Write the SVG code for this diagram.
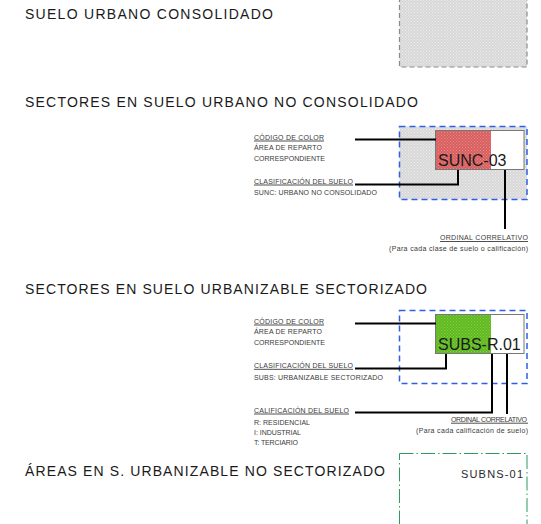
<svg xmlns="http://www.w3.org/2000/svg" width="541" height="524" viewBox="0 0 541 524">
<defs>
<pattern id="dots" width="3" height="3" patternUnits="userSpaceOnUse">
<rect width="3" height="3" fill="#d8d8d8"/>
<rect x="0" y="0" width="1" height="1" fill="#ececec"/>
<rect x="1.5" y="1.5" width="1" height="1" fill="#ececec"/>
</pattern>
<pattern id="reddots" width="3" height="3" patternUnits="userSpaceOnUse">
<rect width="3" height="3" fill="#d85f5f"/>
<rect x="0" y="0" width="1" height="1" fill="#e88a8a"/>
<rect x="1.5" y="1.5" width="1" height="1" fill="#e88a8a"/>
</pattern>
<pattern id="greendots" width="3" height="3" patternUnits="userSpaceOnUse">
<rect width="3" height="3" fill="#5fb81e"/>
<rect x="0" y="0" width="1" height="1" fill="#86cf4f"/>
<rect x="1.5" y="1.5" width="1" height="1" fill="#86cf4f"/>
</pattern>
</defs>
<style>
.title{font-family:"Liberation Sans",Arial,sans-serif;font-size:14px;fill:#1a1a1a}
.lab{font-family:"Liberation Sans",Arial,sans-serif;font-size:7px;fill:#3a3a3a}
.code{font-family:"Liberation Sans",Arial,sans-serif;font-size:16px;fill:#1a1a1a}
.code2{font-family:"Liberation Sans",Arial,sans-serif;font-size:11px;fill:#2a2a2a}
.lead{fill:none;stroke:#000;stroke-width:2}
.ul{stroke:#222;stroke-width:0.8}
.inner{fill:#fff;stroke:#777;stroke-width:1}
</style>
<rect width="541" height="524" fill="#fff"/>

<g id="titles">
<text class="title" x="25" y="19" textLength="248" lengthAdjust="spacing">SUELO URBANO CONSOLIDADO</text>
<text class="title" x="25" y="107" textLength="393" lengthAdjust="spacing">SECTORES EN SUELO URBANO NO CONSOLIDADO</text>
<text class="title" x="25" y="293.5" textLength="402" lengthAdjust="spacing">SECTORES EN SUELO URBANIZABLE SECTORIZADO</text>
<text class="title" x="25" y="476" textLength="360" lengthAdjust="spacing">ÁREAS EN S. URBANIZABLE NO SECTORIZADO</text>
</g>

<g id="suc-box">
<rect x="399.5" y="-5" width="127.5" height="72" fill="url(#dots)" stroke="#8a8a8a" stroke-width="1.2" stroke-dasharray="5,3"/>
</g>

<g id="sunc-box">
<rect x="399.5" y="126.5" width="127.5" height="73" fill="url(#dots)" stroke="#2f5fe8" stroke-width="1.5" stroke-dasharray="6,4"/>
<rect class="inner" x="435.5" y="130.5" width="88.5" height="39"/>
<rect x="436" y="131" width="55" height="38" fill="url(#reddots)"/>
<text class="code" x="438" y="166">SUNC-03</text>
</g>

<g id="sunc-labels">
<text class="lab" x="254" y="139.5" textLength="70" lengthAdjust="spacing">CÓDIGO DE COLOR</text>
<line class="ul" x1="254" y1="141" x2="324" y2="141"/>
<text class="lab" x="254" y="150.3" textLength="68" lengthAdjust="spacing">ÁREA  DE REPARTO</text>
<text class="lab" x="254" y="160.7" textLength="71" lengthAdjust="spacing">CORRESPONDIENTE</text>
<text class="lab" x="254" y="183.5" textLength="99" lengthAdjust="spacing">CLASIFICACIÓN DEL SUELO</text>
<line class="ul" x1="254" y1="185" x2="353" y2="185"/>
<text class="lab" x="254" y="194.5" textLength="123" lengthAdjust="spacing">SUNC: URBANO NO CONSOLIDADO</text>
<text class="lab" x="440" y="239.5" textLength="88" lengthAdjust="spacing">ORDINAL CORRELATIVO</text>
<line class="ul" x1="440" y1="241.5" x2="528" y2="241.5"/>
<text class="lab" x="389" y="250.7" textLength="139" lengthAdjust="spacing">(Para cada clase de suelo o calificación)</text>
</g>

<g id="subs-box">
<rect x="399.5" y="310.5" width="127.5" height="73" fill="#fff" stroke="#2f5fe8" stroke-width="1.5" stroke-dasharray="6,4"/>
<rect class="inner" x="435.5" y="314.5" width="88.5" height="39"/>
<rect x="436" y="315" width="55" height="38" fill="url(#greendots)"/>
<text class="code" x="438" y="350">SUBS-R.01</text>
</g>

<g id="subs-labels">
<text class="lab" x="254" y="323.5" textLength="70" lengthAdjust="spacing">CÓDIGO DE COLOR</text>
<line class="ul" x1="254" y1="325" x2="324" y2="325"/>
<text class="lab" x="254" y="334.3" textLength="68" lengthAdjust="spacing">ÁREA  DE REPARTO</text>
<text class="lab" x="254" y="344.7" textLength="71" lengthAdjust="spacing">CORRESPONDIENTE</text>
<text class="lab" x="254" y="367.8" textLength="99" lengthAdjust="spacing">CLASIFICACIÓN DEL SUELO</text>
<line class="ul" x1="254" y1="369.3" x2="353" y2="369.3"/>
<text class="lab" x="254" y="380" textLength="129" lengthAdjust="spacing">SUBS: URBANIZABLE SECTORIZADO</text>
<text class="lab" x="254" y="412.5" textLength="95" lengthAdjust="spacing">CALIFICACIÓN DEL SUELO</text>
<line class="ul" x1="254" y1="414" x2="349" y2="414"/>
<text class="lab" x="254" y="424.5" textLength="56" lengthAdjust="spacing">R: RESIDENCIAL</text>
<text class="lab" x="254" y="434.5" textLength="47" lengthAdjust="spacing">I: INDUSTRIAL</text>
<text class="lab" x="254" y="444.5" textLength="44" lengthAdjust="spacing">T: TERCIARIO</text>
<text class="lab" x="451" y="421.5" textLength="76" lengthAdjust="spacing">ORDINAL CORRELATIVO</text>
<line class="ul" x1="451" y1="423.2" x2="528" y2="423.2"/>
<text class="lab" x="416" y="433" textLength="112" lengthAdjust="spacing">(Para cada calificación de suelo)</text>
</g>

<g id="subns-box">
<rect x="399.5" y="453.5" width="127.5" height="80" fill="#fff" stroke="#2e9a5e" stroke-width="1" stroke-dasharray="14,3,1.5,3"/>
<text class="code2" x="523" y="478" text-anchor="end" textLength="62" lengthAdjust="spacing">SUBNS-01</text>
</g>

<g id="connectors">
<polyline class="lead" points="355,139.5 436,139.5"/>
<polyline class="lead" points="355,184.5 458,184.5 458,170"/>
<polyline class="lead" points="505,170 505,229"/>
<polyline class="lead" points="355,323.5 436,323.5"/>
<polyline class="lead" points="355,368.5 446,368.5 446,354"/>
<polyline class="lead" points="355,412.5 492,412.5 492,354"/>
<polyline class="lead" points="507,354 507,414"/>
</g>
</svg>
